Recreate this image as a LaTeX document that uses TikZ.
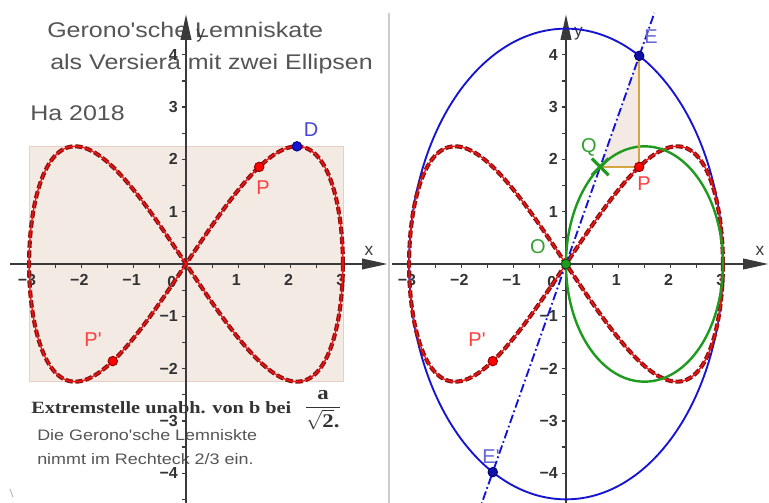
\documentclass[tikz,border=0pt]{standalone}
\usepackage{fontspec}
\setmainfont{Liberation Sans}
\newfontfamily\gfont[FakeStretch=1.18,Ligatures=TeXOff]{Liberation Sans}
\newfontfamily\sfont[FakeStretch=1.18,Ligatures=TeXOff]{Liberation Serif}
\newfontfamily\pfont[Ligatures=TeXOff]{Liberation Sans}
\usetikzlibrary{arrows.meta}
\definecolor{txtgray}{HTML}{555555}
\definecolor{txtdark}{HTML}{333333}
\definecolor{axcol}{HTML}{3A3A3A}
\definecolor{rectfill}{HTML}{F4EAE4}
\definecolor{rectline}{HTML}{E6CFC4}
\definecolor{lemdk}{HTML}{8E1212}
\definecolor{lemrd}{HTML}{F01414}
\definecolor{ellblue}{HTML}{1414D2}
\definecolor{ellgreen}{HTML}{1E9B1E}
\definecolor{orng}{HTML}{D8A443}
\definecolor{lblblue}{HTML}{4646D2}
\definecolor{lblE}{HTML}{6464D2}
\definecolor{lblred}{HTML}{FF4040}
\definecolor{lblgreen}{HTML}{32A032}
\definecolor{sepgray}{HTML}{CCCCCC}
\tikzset{
  axisline/.style={draw=axcol, line width=1.2pt, -{Triangle[length=19pt,width=8pt]}},
  tickmark/.style={draw=axcol, line width=0.9pt},
  ticklbl/.style={font=\bfseries\fontsize{12}{14}\selectfont, text=txtdark, inner sep=0pt},
  axlbl/.style={font=\fontsize{13}{15}\selectfont, text=axcol, inner sep=0pt},
  lemdash/.style={draw=lemdk, line width=3.1pt, dash pattern=on 5.5pt off 2pt},
  lemline/.style={draw=lemrd, line width=1pt},
  ptdot/.style={circle, inner sep=0pt, minimum size=7.2pt, line width=0.6pt},
  ptlbl/.style={font=\pfont\fontsize{15}{18}\selectfont, inner sep=0pt},
  gtext/.style={anchor=base west, inner sep=0pt, text=txtgray},
  panel/.style={x=39.225pt, y=39.225pt},
}
\begin{document}
\begin{tikzpicture}[x=0.75pt,y=-0.75pt]
\useasboundingbox (0,0) rectangle (769,503);
\fill[white] (0,0) rectangle (769,503);

% ---------- left panel: rectangle ----------
\begin{scope}[shift={(186,264)}, panel]
  \filldraw[fill=rectfill, draw=rectline, line width=0.6pt] (-3,-2.25) rectangle (3,2.25);
\end{scope}

% ---------- texts ----------
\node[gtext, font=\gfont\fontsize{15.9}{19}\selectfont] (title1) at (47,38) {Gerono'sche Lemniskate};
\node[gtext, font=\gfont\fontsize{15.9}{19}\selectfont] (title2) at (50,70) {als Versiera mit zwei Ellipsen};
\node[gtext, font=\gfont\fontsize{15.9}{19}\selectfont] (year) at (30,121) {Ha 2018};
\node[gtext, text=txtdark, font=\sfont\bfseries\fontsize{12.9}{15}\selectfont] (extr) at (31,413) {Extremstelle unabh. von b bei};
\node[inner sep=0pt, text=txtdark, font=\sfont\bfseries\fontsize{14.5}{17}\selectfont] (frac) at (323,410) {$\displaystyle\frac{\mbox{a}}{\sqrt{\mbox{2}}\mbox{.}}$};
\node[gtext, font=\gfont\fontsize{11.4}{14}\selectfont] (small1) at (37,440) {Die Gerono'sche Lemniskte};
\node[gtext, font=\gfont\fontsize{11.4}{14}\selectfont] (small2) at (37,464) {nimmt im Rechteck 2/3 ein.};
\draw[gray!60, line width=0.7pt] (10,489) -- (13,497);

% separator
\draw[sepgray, line width=1.6pt] (389,13) -- (389,503);

% ---------- left panel ----------
\begin{scope}[shift={(186,264)}, panel]
  \coordinate (lO) at (0,0);
  \coordinate (lxs) at (-3.365,0);
  \coordinate (lxe) at (3.85,0);
  \coordinate (lys) at (0,-4.8);
  \coordinate (lye) at (0,4.77);
  \draw[axisline] (lxs) -- (lxe);
  \draw[axisline] (lys) -- (lye);
  \foreach \v in {-3,-2.5,...,3.01} {\ifdim\v pt=0pt\else\draw[tickmark] (\v,0) -- (\v,-0.075);\fi}
  \foreach \v in {-4.5,-4,...,4.01} {\ifdim\v pt=0pt\else\draw[tickmark] (0,\v) -- (-0.075,\v);\fi}
  \foreach \v/\t in {-3/−3,-2/−2,-1/−1,1/1,2/2,3/3} \node[ticklbl, anchor=north] at (\v-0.04,-0.19) {\t};
  \node[ticklbl] (l0) at (-0.27,-0.34) {0};
  \foreach \v/\t in {-4/−4,-3/−3,-2/−2,-1/−1,1/1,2/2,3/3,4/4} \node[ticklbl, anchor=east] at (-0.15,\v) {\t};
  \node[axlbl] (lxl) at (3.5,0.25) {x};
  \node[axlbl] (lyl) at (0.28,4.36) {y};
  \draw[lemdash] plot[domain=0:360, samples=361, variable=\t] ({3*cos(\t)},{2.25*sin(2*\t)});
  \draw[lemline] plot[domain=0:360, samples=361, variable=\t] ({3*cos(\t)},{2.25*sin(2*\t)});
  \node[ptdot, fill=ellblue, draw=blue!45!black] (lD) at (2.1213,2.25) {};
  \node[ptdot, fill=red, draw=red!50!black] (lP) at (1.4,1.857) {};
  \node[ptdot, fill=red, draw=red!50!black] (lPp) at (-1.4,-1.857) {};
\end{scope}
\node[ptlbl, text=lblblue] (lDl) at (311,130) {D};
\node[ptlbl, text=lblred] (lPl) at (263,188) {P};
\node[ptlbl, text=lblred] (lPpl) at (93,340) {P'};

% ---------- right panel ----------
\begin{scope}[shift={(566,264)}, panel]
  \coordinate (rO) at (0,0);
  \coordinate (rP) at (1.4,1.857);
  \coordinate (rE) at (1.4,3.98);
  \coordinate (rQ) at (0.653,1.857);
  \coordinate (rEp) at (-1.4,-3.98);
  \coordinate (rlb) at (-1.69,-4.8);
  \coordinate (rlt) at (1.69,4.8);
  \coordinate (rxs) at (-3.33,0);
  \coordinate (rxe) at (3.87,0);
  \coordinate (rys) at (0,-4.8);
  \coordinate (rye) at (0,4.77);
  \fill[rectfill] (rQ) -- (rP) -- (rE) -- cycle;
  \draw[axisline] (rxs) -- (rxe);
  \draw[axisline] (rys) -- (rye);
  \foreach \v in {-3,-2.5,...,3.01} {\ifdim\v pt=0pt\else\draw[tickmark] (\v,0) -- (\v,-0.075);\fi}
  \foreach \v in {-4.5,-4,...,4.01} {\ifdim\v pt=0pt\else\draw[tickmark] (0,\v) -- (-0.075,\v);\fi}
  \foreach \v/\t in {-3/−3,-2/−2,-1/−1,1/1,2/2,3/3} \node[ticklbl, anchor=north] at (\v-0.04,-0.19) {\t};
  \node[ticklbl] (r0) at (-0.27,-0.34) {0};
  \foreach \v/\t in {-4/−4,-3/−3,-2/−2,-1/−1,1/1,2/2,3/3,4/4} \node[ticklbl, anchor=east] at (-0.15,\v) {\t};
  \node[axlbl] (rxl) at (3.71,0.25) {x};
  \node[axlbl] (ryl) at (0.24,4.4) {y};
  \draw[ellblue, line width=1.4pt] (rO) ellipse [x radius=3, y radius=4.5];
  \draw[lemdash] plot[domain=0:360, samples=361, variable=\t] ({3*cos(\t)},{2.25*sin(2*\t)});
  \draw[lemline] plot[domain=0:360, samples=361, variable=\t] ({3*cos(\t)},{2.25*sin(2*\t)});
  \draw[ellgreen, line width=1.8pt] (1.5,0) ellipse [x radius=1.5, y radius=2.25];
  \draw[ellblue, line width=1.4pt, dash pattern=on 6.5pt off 2.2pt on 1.3pt off 2.2pt] (rlb) -- (rlt);
  \draw[orng, line width=1.8pt] (rQ) -- (rP) -- (rE);
  \draw[ellgreen, line width=2.4pt] ([shift={(-0.16,0.16)}]rQ) -- ([shift={(0.16,-0.16)}]rQ);
  \draw[ellgreen, line width=2.4pt] ([shift={(-0.16,-0.16)}]rQ) -- ([shift={(0.16,0.16)}]rQ);
  \node[ptdot, fill=red, draw=red!50!black] (rPd) at (rP) {};
  \node[ptdot, fill=red, draw=red!50!black] (rPpd) at (-1.4,-1.857) {};
  \node[ptdot, fill=ellblue!80!black, draw=blue!40!black] (rEd) at (rE) {};
  \node[ptdot, fill=ellblue!80!black, draw=blue!40!black] (rEpd) at (rEp) {};
  \node[ptdot, fill=ellgreen, draw=green!30!black] (rOd) at (rO) {};
\end{scope}
\node[ptlbl, text=lblgreen] (rQl) at (589,147) {Q};
\node[ptlbl, text=lblred] (rPl) at (644,184) {P};
\node[ptlbl, text=lblgreen] (rOl) at (538,247) {O};
\node[ptlbl, text=lblred] (rPpl) at (477,340) {P'};
\node[ptlbl, text=lblE] (rEl) at (651,37) {E};
\node[ptlbl, text=lblE] (rEpl) at (491,457) {E'};
\end{tikzpicture}
\end{document}
